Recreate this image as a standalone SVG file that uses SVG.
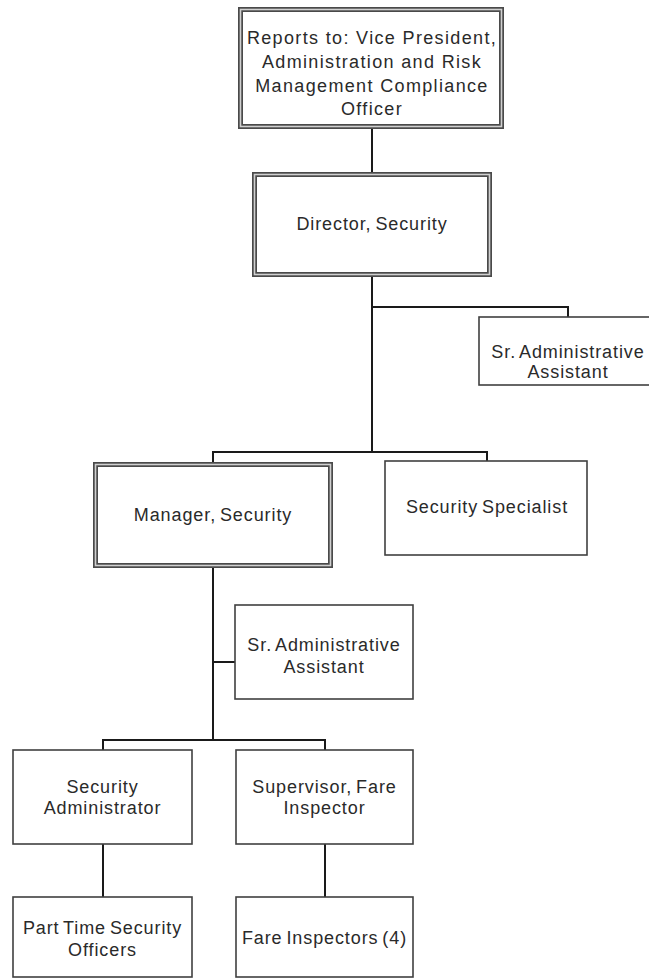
<svg xmlns="http://www.w3.org/2000/svg" width="649" height="979" viewBox="0 0 649 979">
  <style>
    .bg { fill: #ffffff; }
    .box { fill: #ffffff; stroke: #404040; stroke-width: 1.6; }
    .dbl-out { fill: #ffffff; stroke: #4a4a4a; stroke-width: 5; }
    .dbl-in { fill: none; stroke: #d0d0d0; stroke-width: 1.6; }
    .lbl { font-family: "Liberation Sans", Arial, sans-serif; font-size: 18px; fill: #2a2a2a; text-anchor: middle; letter-spacing: 0.9px; word-spacing: -2px; }
    .lbl.wide { letter-spacing: 1.35px; word-spacing: 0; }
    .conn { fill: none; stroke: #1a1a1a; stroke-width: 2; }
  </style>
  <rect class="bg" x="0" y="0" width="649" height="979"/>

  <g id="connectors">
    <path class="conn" d="M372 129 V172"/>
    <path class="conn" d="M372 277 V452"/>
    <path class="conn" d="M372 307 H568 V317"/>
    <path class="conn" d="M213 462 V452 H487 V461"/>
    <path class="conn" d="M213 568 V740"/>
    <path class="conn" d="M213 662 H235"/>
    <path class="conn" d="M103 750 V740 H325 V750"/>
    <path class="conn" d="M103 844 V897"/>
    <path class="conn" d="M325 844 V897"/>
  </g>

  <g id="reports-to">
    <rect class="dbl-out" x="240.5" y="9.5" width="261" height="117"/>
    <rect class="dbl-in" x="240.5" y="9.5" width="261" height="117"/>
    <text class="lbl wide" x="372" y="44">Reports to: Vice President,</text>
    <text class="lbl wide" x="372" y="68">Administration and Risk</text>
    <text class="lbl wide" x="372" y="92">Management Compliance</text>
    <text class="lbl wide" x="372" y="115">Officer</text>
  </g>

  <g id="director-security">
    <rect class="dbl-out" x="254.5" y="174.5" width="235" height="100"/>
    <rect class="dbl-in" x="254.5" y="174.5" width="235" height="100"/>
    <text class="lbl" x="372" y="230">Director, Security</text>
  </g>

  <g id="sr-admin-assistant-1">
    <rect class="box" x="479" y="317" width="178" height="68"/>
    <text class="lbl" x="568" y="358">Sr. Administrative</text>
    <text class="lbl" x="568" y="378">Assistant</text>
  </g>

  <g id="manager-security">
    <rect class="dbl-out" x="95.5" y="464.5" width="235" height="101"/>
    <rect class="dbl-in" x="95.5" y="464.5" width="235" height="101"/>
    <text class="lbl" x="213" y="521">Manager, Security</text>
  </g>

  <g id="security-specialist">
    <rect class="box" x="385" y="461" width="202" height="94"/>
    <text class="lbl" x="487" y="513">Security Specialist</text>
  </g>

  <g id="sr-admin-assistant-2">
    <rect class="box" x="235" y="605" width="178" height="94"/>
    <text class="lbl" x="324" y="651">Sr. Administrative</text>
    <text class="lbl" x="324" y="673">Assistant</text>
  </g>

  <g id="security-administrator">
    <rect class="box" x="13" y="750" width="179" height="94"/>
    <text class="lbl" x="102.5" y="793">Security</text>
    <text class="lbl" x="102.5" y="814">Administrator</text>
  </g>

  <g id="supervisor-fare-inspector">
    <rect class="box" x="236" y="750" width="177" height="94"/>
    <text class="lbl" x="324.5" y="793">Supervisor, Fare</text>
    <text class="lbl" x="324.5" y="814">Inspector</text>
  </g>

  <g id="part-time-officers">
    <rect class="box" x="13" y="897" width="179" height="80"/>
    <text class="lbl" x="102.5" y="934">Part Time Security</text>
    <text class="lbl" x="102.5" y="956">Officers</text>
  </g>

  <g id="fare-inspectors">
    <rect class="box" x="236" y="897" width="177" height="80"/>
    <text class="lbl" x="324.5" y="944">Fare Inspectors (4)</text>
  </g>
</svg>
